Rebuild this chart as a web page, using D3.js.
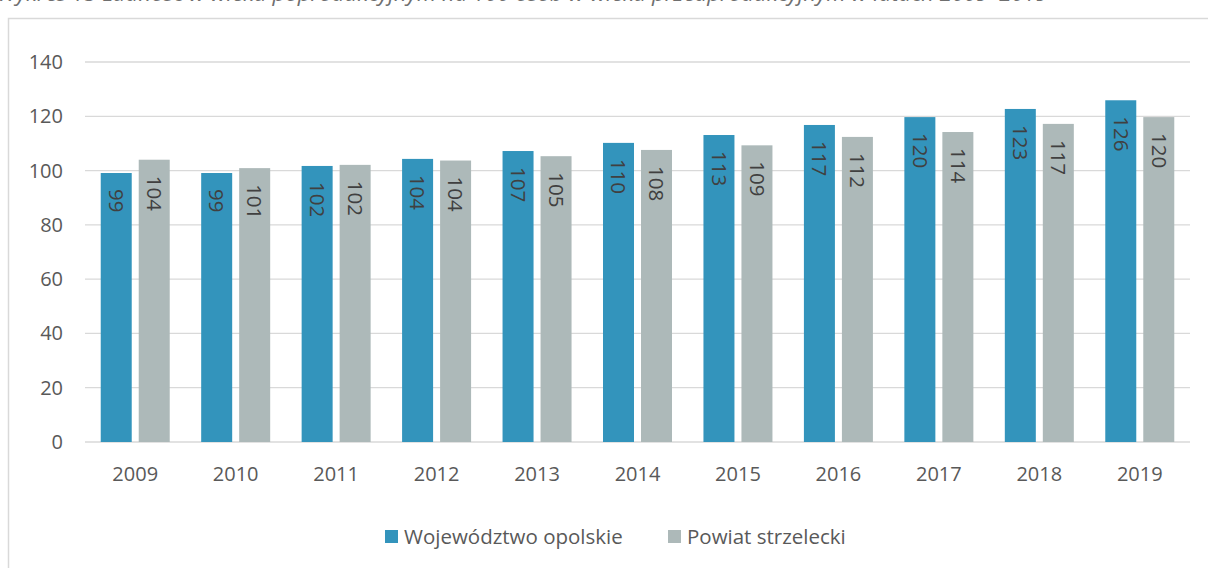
<!DOCTYPE html>
<html>
  <head>
    <meta charset="utf-8">
    <script src="https://cdn.jsdelivr.net/npm/d3@7"></script>
    <style type="text/css">

html, body {
  margin: 0;
  padding: 0;
  background: #fff;
}

svg {
  display: block;
  font-family: "Open Sans", sans-serif;
}

.grid line {
  stroke: #d9d9d9;
  stroke-width: 1.3px;
}

.tick-label {
  fill: #595959;
  font-size: 20px;
}

.bar-label {
  fill: #404040;
  font-size: 20.5px;
}

    </style>
  </head>
  <body>
    <svg id="chart" width="1208" height="568"></svg>
    <script type="text/javascript">

var title = "Wykres 15 Ludność w wieku poprodukcyjnym na 100 osób w wieku przedprodukcyjnym w latach 2009–2019";

var years = ["2009", "2010", "2011", "2012", "2013", "2014", "2015", "2016", "2017", "2018", "2019"];
var opolskie = [99.1, 99.1, 101.7, 104.3, 107.2, 110.2, 113.1, 116.8, 119.7, 122.7, 125.9];
var strzelecki = [104.0, 100.9, 102.1, 103.7, 105.3, 107.6, 109.3, 112.4, 114.2, 117.2, 119.7];
var seriesNames = ["Województwo opolskie", "Powiat strzelecki"];
var colors = ["#3394bc", "#adb9b9"];
var yTicks = [0, 20, 40, 60, 80, 100, 120, 140];

var svg = d3.select("#chart");

// title, mostly cut off at the top of the picture (as in the source)
svg.append("text")
    .attr("x", -3)
    .attr("y", 1)
    .attr("fill", "#6f6f6f")
    .attr("textLength", 1051)
    .attr("lengthAdjust", "spacingAndGlyphs")
    .style("font-style", "italic")
    .style("font-size", "21px")
    .text(title);

// chart frame
svg.append("rect")
    .attr("x", 8.5)
    .attr("y", 18.5)
    .attr("width", 1220)
    .attr("height", 580)
    .attr("fill", "none")
    .attr("stroke", "#d9d9d9")
    .attr("stroke-width", 1.5);

var x = d3.scaleBand()
    .domain(years)
    .range([85, 1190]);

var y = d3.scaleLinear()
    .domain([0, 140])
    .range([442, 62]);

var grid = svg.append("g").attr("class", "grid");
grid.selectAll("line")
    .data(yTicks)
  .enter().append("line")
    .attr("x1", 85)
    .attr("x2", 1190)
    .attr("y1", function(d) { return y(d); })
    .attr("y2", function(d) { return y(d); });

svg.selectAll(".ytick")
    .data(yTicks)
  .enter().append("text")
    .attr("class", "tick-label ytick")
    .attr("x", 63)
    .attr("y", function(d) { return y(d); })
    .attr("dy", "0.35em")
    .attr("text-anchor", "end")
    .text(function(d) { return d; });

svg.selectAll(".xtick")
    .data(years)
  .enter().append("text")
    .attr("class", "tick-label xtick")
    .attr("x", function(d) { return x(d) + x.bandwidth() / 2; })
    .attr("y", 481)
    .attr("text-anchor", "middle")
    .text(function(d) { return d; });

var barW = 31, gap = 7;

var series = [opolskie, strzelecki];
series.forEach(function(vals, i) {
  var rows = years.map(function(yr, j) { return {year: yr, value: vals[j]}; });
  function bx(d) {
    var c = x(d.year) + x.bandwidth() / 2;
    return i === 0 ? c - gap / 2 - barW : c + gap / 2;
  }

  svg.selectAll(".bar" + i)
      .data(rows)
    .enter().append("rect")
      .attr("class", "bar" + i)
      .attr("x", bx)
      .attr("y", function(d) { return y(d.value); })
      .attr("width", barW)
      .attr("height", function(d) { return y(0) - y(d.value); })
      .attr("fill", colors[i]);

  // value labels, turned 90 degrees, inside the top of the bar
  svg.selectAll(".lab" + i)
      .data(rows)
    .enter().append("text")
      .attr("class", "bar-label")
      .attr("transform", function(d) {
        return "translate(" + (bx(d) + barW / 2) + "," + (y(d.value) + 16) + ") rotate(90)";
      })
      .attr("dy", "0.35em")
      .text(function(d) { return Math.round(d.value); });
});

// legend
var legendX = [385, 668];
seriesNames.forEach(function(name, i) {
  svg.append("rect")
      .attr("x", legendX[i])
      .attr("y", 530)
      .attr("width", 13)
      .attr("height", 13)
      .attr("fill", colors[i]);
  svg.append("text")
      .attr("class", "tick-label")
      .attr("x", legendX[i] + 19)
      .attr("y", 537)
      .attr("dy", "0.35em")
      .style("font-size", "20.5px")
      .text(name);
});

    </script>
  </body>
</html>
